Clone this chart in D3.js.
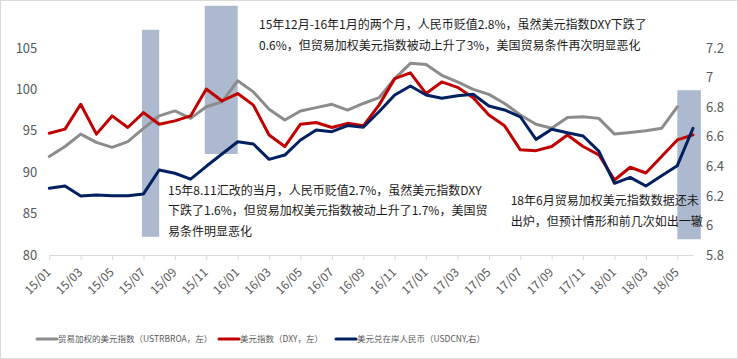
<!DOCTYPE html>
<html><head><meta charset="utf-8">
<script src="https://cdn.jsdelivr.net/npm/d3@7/dist/d3.min.js"></script>
<style>body{margin:0;background:#fff}svg{display:block}</style>
</head><body><svg id="c" width="738" height="359"></svg>
<script>
const months = ["15/01","15/02","15/03","15/04","15/05","15/06","15/07","15/08","15/09","15/10","15/11","15/12",
"16/01","16/02","16/03","16/04","16/05","16/06","16/07","16/08","16/09","16/10","16/11","16/12",
"17/01","17/02","17/03","17/04","17/05","17/06","17/07","17/08","17/09","17/10","17/11","17/12",
"18/01","18/02","18/03","18/04","18/05","18/06"];
const tickLabels = months.filter((m, i) => i % 2 === 0);
const tradeWeighted = [91.9,93.1,94.6,93.6,93.0,93.7,95.3,96.8,97.4,96.5,97.9,98.5,
101.05,99.7,97.6,96.3,97.4,97.8,98.2,97.5,98.3,99.0,101.3,103.15,
103.0,101.7,100.9,100.0,99.4,98.3,96.9,95.8,95.3,96.6,96.7,96.5,
94.6,94.8,95.0,95.3,97.9,null];
const dxy = [94.7,95.2,98.2,94.6,96.8,95.4,97.2,95.8,96.2,96.8,100.05,98.6,
99.5,98.1,94.5,93.1,95.8,96.0,95.4,95.9,95.6,98.1,101.3,102.0,
99.5,100.9,100.25,99.0,96.9,95.6,92.7,92.6,93.1,94.5,93.1,92.1,
89.06,90.6,89.9,91.9,93.9,94.5];
const usdcny = [6.251,6.267,6.199,6.206,6.201,6.201,6.213,6.375,6.353,6.313,6.40,6.483,
6.566,6.551,6.447,6.476,6.578,6.645,6.634,6.675,6.664,6.769,6.882,6.943,
6.882,6.86,6.877,6.887,6.808,6.781,6.735,6.582,6.65,6.627,6.605,6.503,
6.285,6.325,6.267,6.336,6.404,6.657];
const leftTicks = [80,85,90,95,100,105];
const rightTicks = [5.8,6.0,6.2,6.4,6.6,6.8,7.0,7.2];
const seriesNames = ["贸易加权的美元指数（USTRBROA，左）","美元指数（DXY，左）","美元兑在岸人民币（USDCNY,右）"];
// shaded periods: month-index span and left-axis value span
const shadeStart = [5.9, 9.9, 40];
const shadeEnd = [7, 12, 41.5];
const shadeTop = [107.2, 110.1, 99.9];
const shadeBottom = [82.2, 92.2, 81.9];
const notes = [
  ["15年12月-16年1月的两个月，人民币贬值2.8%，虽然美元指数DXY下跌了","0.6%，但贸易加权美元指数被动上升了3%，美国贸易条件再次明显恶化"],
  ["15年8.11汇改的当月，人民币贬值2.7%，虽然美元指数DXY","下跌了1.6%，但贸易加权美元指数被动上升了1.7%，美国贸","易条件明显恶化"],
  ["18年6月贸易加权美元指数数据还未","出炉，但预计情形和前几次如出一辙"]
];

const FONT = "'Noto Sans CJK SC','Noto Sans',sans-serif";
const colors = ["#8c8c8c","#c00000","#002060"];
const svg = d3.select("#c").style("font-family", FONT);

svg.append("rect").attr("x",0.5).attr("y",0.5).attr("width",737).attr("height",358)
  .attr("fill","#fff").attr("stroke","#d9d9d9");

const x = d3.scaleLinear().domain([0, months.length - 1]).range([49.3, 693]);
const yL = d3.scaleLinear().domain([80, 105]).range([255, 48]);
const yR = d3.scaleLinear().domain([5.8, 7.2]).range([255, 48]);

// shaded rectangles
svg.append("g").selectAll("rect").data(shadeStart).join("rect")
  .attr("x", (d) => x(d))
  .attr("width", (d, i) => x(shadeEnd[i]) - x(d))
  .attr("y", (d, i) => yL(shadeTop[i]))
  .attr("height", (d, i) => yL(shadeBottom[i]) - yL(shadeTop[i]))
  .attr("fill", "#adb9ce");

// x axis
const xAxis = svg.append("g").attr("transform", "translate(0,255)")
  .call(d3.axisBottom(x).tickValues(tickLabels.map(l => months.indexOf(l)))
    .tickSize(5).tickSizeOuter(0).tickFormat(i => months[i]));
xAxis.select(".domain").attr("stroke", "#d9d9d9");
xAxis.selectAll(".tick line").attr("stroke", "#d9d9d9");
xAxis.selectAll(".tick text")
  .attr("fill", "#595959").style("font-size", "12px").style("font-family", FONT)
  .attr("text-anchor", "end").attr("y", 0).attr("dy", 0)
  .attr("transform", "translate(2,18) rotate(-45)");

// left axis
const lAxis = svg.append("g").attr("transform", "translate(49.3,0)")
  .call(d3.axisLeft(yL).tickValues(leftTicks).tickSize(0).tickPadding(12));
lAxis.select(".domain").remove();
lAxis.selectAll("text").attr("fill", "#595959").style("font-size", "13px").style("font-family", FONT);

// right axis
const rAxis = svg.append("g").attr("transform", "translate(693,0)")
  .call(d3.axisRight(yR).tickValues(rightTicks).tickSize(0).tickPadding(13)
    .tickFormat(d3.format("~g")));
rAxis.select(".domain").remove();
rAxis.selectAll("text").attr("fill", "#595959").style("font-size", "13px").style("font-family", FONT);

// lines
const lineL = d3.line().defined(d => d != null).x((d, i) => x(i)).y(d => yL(d));
const lineR = d3.line().defined(d => d != null).x((d, i) => x(i)).y(d => yR(d));
[[tradeWeighted, lineL], [dxy, lineL], [usdcny, lineR]].forEach(([data, gen], k) => {
  svg.append("path").attr("d", gen(data)).attr("fill", "none")
    .attr("stroke", colors[k]).attr("stroke-width", 3)
    .attr("stroke-linejoin", "round").attr("stroke-linecap", "round");
});

// annotations
const notePos = [[259, 28.5, 21], [168, 194.5, 20.8], [510.7, 204.5, 21.5]];
notes.forEach((lines, k) => {
  const t = svg.append("text").attr("fill", "#1a1a1a").style("font-size", "12px");
  lines.forEach((s, j) => {
    t.append("tspan").attr("x", notePos[k][0]).attr("y", notePos[k][1] + j * notePos[k][2]).text(s);
  });
});

// legend
const legX = [37, 219, 336];
const leg = svg.append("g");
seriesNames.forEach((name, k) => {
  leg.append("line").attr("x1", legX[k]).attr("x2", legX[k] + 20).attr("y1", 339).attr("y2", 339)
    .attr("stroke", colors[k]).attr("stroke-width", 3).attr("stroke-linecap", "round");
  leg.append("text").attr("x", legX[k] + 21).attr("y", 339).attr("dy", "0.35em")
    .attr("fill", "#595959").style("font-size", "8.5px").text(name);
});
</script></body></html>
